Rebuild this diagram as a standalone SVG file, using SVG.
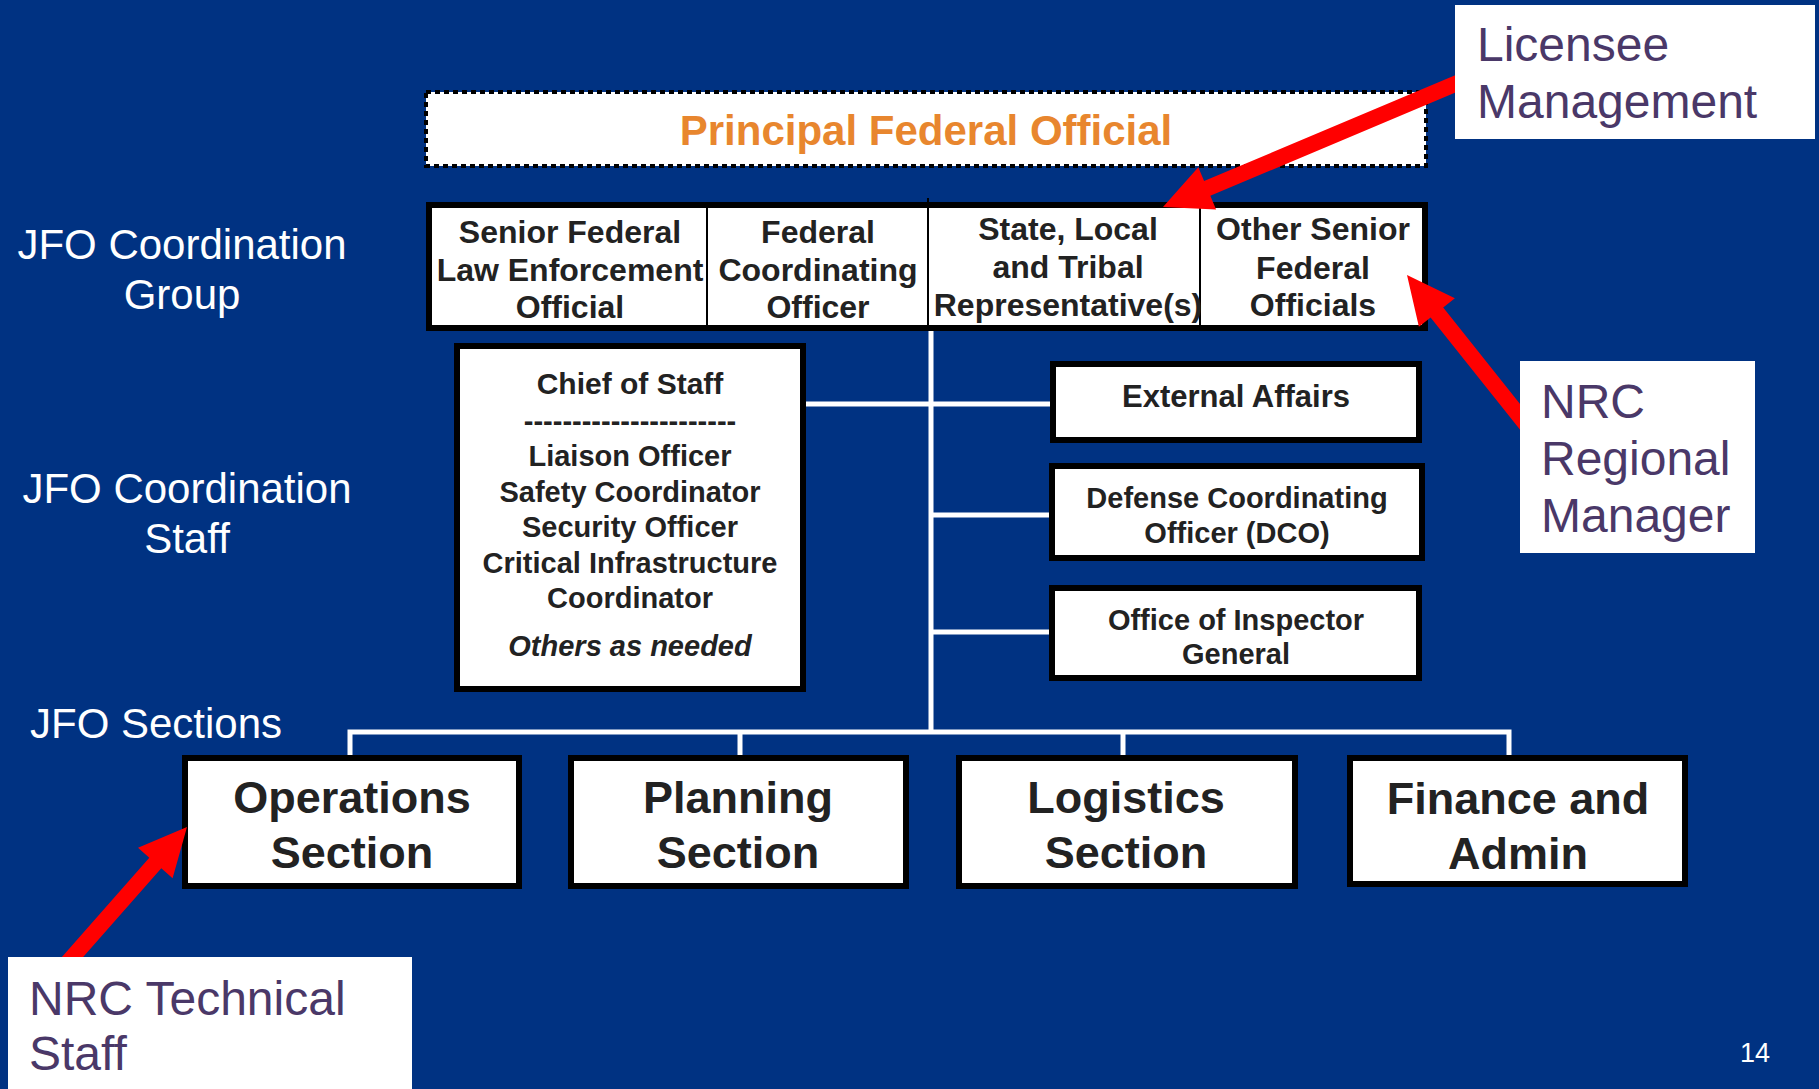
<svg xmlns="http://www.w3.org/2000/svg" width="1819" height="1089" viewBox="0 0 1819 1089">
<style>
.box{fill:#fff;stroke:#000;stroke-width:6}
.bt{font-family:"Liberation Sans",Arial,sans-serif;font-weight:bold;fill:#222;text-anchor:middle}
.lbl{font-family:"Liberation Sans",Arial,sans-serif;fill:#fff;font-size:42px}
.call{font-family:"Liberation Sans",Arial,sans-serif;fill:#4A3868;font-size:48px}
.conn{stroke:#fff;stroke-width:5;fill:none}
.arrow{fill:#ff0000}
</style>
<rect width="1819" height="1089" fill="#003282"/>

<g id="labels">
<text class="lbl" x="182" y="259" text-anchor="middle">JFO Coordination</text>
<text class="lbl" x="182" y="309" text-anchor="middle">Group</text>
<text class="lbl" x="187" y="503" text-anchor="middle">JFO Coordination</text>
<text class="lbl" x="187" y="553" text-anchor="middle">Staff</text>
<text class="lbl" x="30" y="738">JFO Sections</text>
<text x="1740" y="1062" font-family="Liberation Sans,Arial,sans-serif" font-size="27" fill="#fff">14</text>
</g>

<g id="connectors">
<line class="conn" x1="931" y1="330" x2="931" y2="732"/>
<line class="conn" x1="806" y1="404" x2="1050" y2="404"/>
<line class="conn" x1="931" y1="515" x2="1049" y2="515"/>
<line class="conn" x1="931" y1="632" x2="1049" y2="632"/>
<polyline class="conn" points="350,756 350,732 1509,732 1509,756"/>
<line class="conn" x1="740" y1="732" x2="740" y2="756"/>
<line class="conn" x1="1123" y1="732" x2="1123" y2="756"/>
</g>

<g id="pfo">
<rect x="426" y="92" width="1000" height="74" fill="#fff" stroke="#000" stroke-width="4" stroke-dasharray="5 4"/>
<text x="926" y="145" font-family="Liberation Sans,Arial,sans-serif" font-weight="bold" font-size="42" fill="#E8862E" text-anchor="middle">Principal Federal Official</text>
</g>

<g id="coordination-group">
<rect class="box" x="429" y="205" width="996" height="123"/>
<line x1="707" y1="205" x2="707" y2="328" stroke="#000" stroke-width="2"/>
<line x1="928" y1="198" x2="928" y2="328" stroke="#000" stroke-width="2"/>
<line x1="1200" y1="205" x2="1200" y2="328" stroke="#000" stroke-width="2"/>
<g class="bt" font-size="32">
<text x="570" y="243">Senior Federal</text>
<text x="570" y="281">Law Enforcement</text>
<text x="570" y="318">Official</text>
<text x="818" y="243">Federal</text>
<text x="818" y="281">Coordinating</text>
<text x="818" y="318">Officer</text>
<text x="1068" y="240">State, Local</text>
<text x="1068" y="278">and Tribal</text>
<text x="1068" y="316">Representative(s)</text>
<text x="1313" y="240">Other Senior</text>
<text x="1313" y="279">Federal</text>
<text x="1313" y="316">Officials</text>
</g>
</g>

<g id="chief-of-staff">
<rect class="box" x="457" y="346" width="346" height="343"/>
<g class="bt" font-size="29">
<text x="630" y="394" font-size="30">Chief of Staff</text>
<text x="630" y="431">----------------------</text>
<text x="630" y="466">Liaison Officer</text>
<text x="630" y="502">Safety Coordinator</text>
<text x="630" y="537">Security Officer</text>
<text x="630" y="573">Critical Infrastructure</text>
<text x="630" y="608">Coordinator</text>
<text x="630" y="656" font-style="italic">Others as needed</text>
</g>
</g>

<g id="external-affairs">
<rect class="box" x="1053" y="364" width="366" height="76"/>
<text class="bt" x="1236" y="407" font-size="31">External Affairs</text>
</g>

<g id="dco">
<rect class="box" x="1052" y="466" width="370" height="92"/>
<text class="bt" x="1237" y="508" font-size="29">Defense Coordinating</text>
<text class="bt" x="1237" y="543" font-size="29">Officer (DCO)</text>
</g>

<g id="inspector-general">
<rect class="box" x="1052" y="588" width="367" height="90"/>
<text class="bt" x="1236" y="630" font-size="29">Office of Inspector</text>
<text class="bt" x="1236" y="664" font-size="29">General</text>
</g>

<g id="operations">
<rect class="box" x="185" y="758" width="334" height="128"/>
<text class="bt" x="352" y="813" font-size="45">Operations</text>
<text class="bt" x="352" y="868" font-size="45">Section</text>
</g>
<g id="planning">
<rect class="box" x="571" y="758" width="335" height="128"/>
<text class="bt" x="738" y="813" font-size="45">Planning</text>
<text class="bt" x="738" y="868" font-size="45">Section</text>
</g>
<g id="logistics">
<rect class="box" x="959" y="758" width="336" height="128"/>
<text class="bt" x="1126" y="813" font-size="45">Logistics</text>
<text class="bt" x="1126" y="868" font-size="45">Section</text>
</g>
<g id="finance">
<rect class="box" x="1350" y="758" width="335" height="126"/>
<text class="bt" x="1518" y="814" font-size="45">Finance and</text>
<text class="bt" x="1518" y="869" font-size="45">Admin</text>
</g>

<g id="arrows">
<polygon class="arrow" points="1461.1,72.7 1204.1,181 1198.3,167.2 1163,207 1216.1,209.6 1210.3,195.8 1467.3,87.5"/>
<polygon class="arrow" points="1533.5,420.8 1443.2,307.5 1454.9,298.2 1407,275 1418.9,326.8 1430.6,317.5 1520.9,430.8"/>
<polygon class="arrow" points="68.4,973.8 161.3,868.3 172.6,878.2 187,827 138,847.8 149.3,857.7 56.4,963.2"/>
</g>

<g id="licensee-management">
<rect x="1455" y="5" width="360" height="134" fill="#fff"/>
<text class="call" x="1477" y="61">Licensee</text>
<text class="call" x="1477" y="118">Management</text>
</g>
<g id="nrc-regional-manager">
<rect x="1520" y="361" width="235" height="192" fill="#fff"/>
<text class="call" x="1541" y="418">NRC</text>
<text class="call" x="1541" y="475">Regional</text>
<text class="call" x="1541" y="532">Manager</text>
</g>
<g id="nrc-technical-staff">
<rect x="8" y="957" width="404" height="132" fill="#fff"/>
<text class="call" x="29" y="1015">NRC Technical</text>
<text class="call" x="29" y="1070">Staff</text>
</g>
</svg>
